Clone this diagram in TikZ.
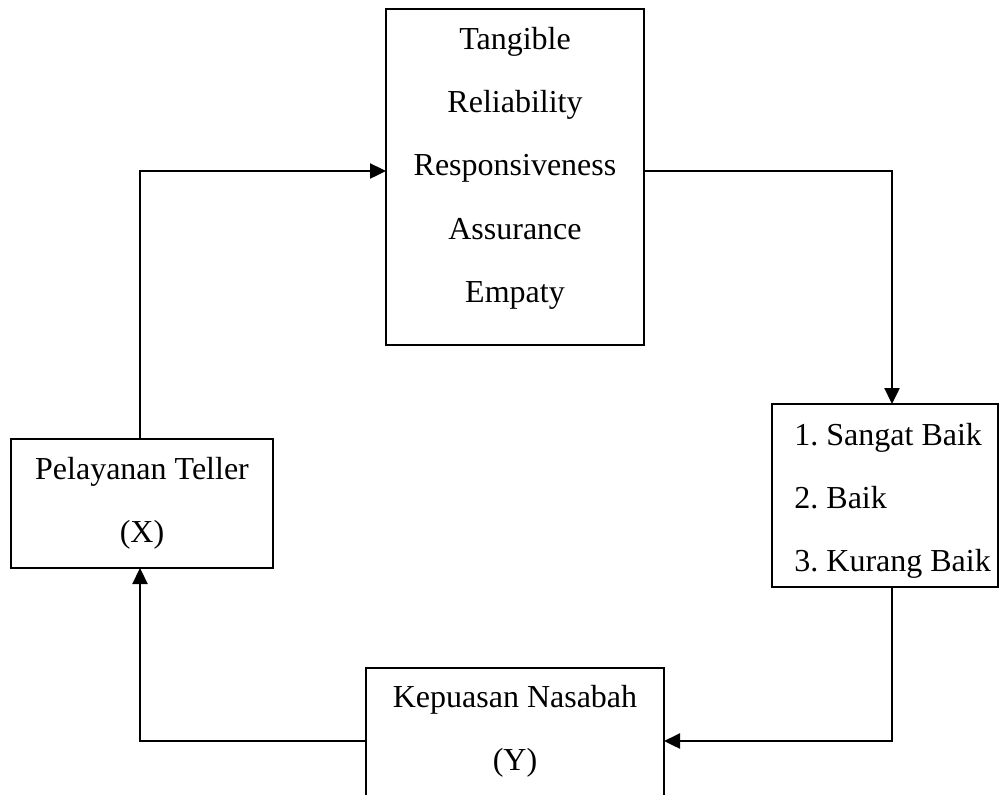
\documentclass[tikz,border=0pt]{standalone}
\usepackage{fontspec}
\setmainfont{Liberation Serif}
\usetikzlibrary{arrows.meta}
\frenchspacing
\begin{document}
\begin{tikzpicture}[x=0.5pt,y=-0.5pt,
  box/.style={draw,line width=1.1pt,inner sep=0pt,outer sep=0pt},
  txt/.style={anchor=base,inner sep=0pt,font=\fontsize{16pt}{20pt}\selectfont},
  txtl/.style={anchor=base west,inner sep=0pt,font=\fontsize{16pt}{20pt}\selectfont},
  arr/.style={line width=1.2pt,-{Triangle[length=8pt,width=7.5pt]}}]
\clip (0,0) rectangle (1000,794);
\fill[white] (0,0) rectangle (1000,794);
% boxes
\node[box,minimum width=129pt,minimum height=168pt] (T) at (515,177) {};
\node[box,minimum width=113pt,minimum height=91.5pt] (R) at (885,495.5) {};
\node[box,minimum width=131pt,minimum height=64.5pt] (L) at (142,503.5) {};
\node[box,minimum width=149pt,minimum height=81pt] (B) at (515,749) {};
% texts
\node[txt] (t1) at (515,49) {Tangible};
\node[txt] (t2) at (515,112) {Reliability};
\node[txt] (t3) at (515,175) {Responsiveness};
\node[txt] (t4) at (515,239) {Assurance};
\node[txt] (t5) at (515,302) {Empaty};
\node[txtl] (r1) at (794,445) {1. Sangat Baik};
\node[txtl] (r2) at (794,508) {2. Baik};
\node[txtl] (r3) at (794,571) {3. Kurang Baik};
\node[txt] (l1) at (142,479) {Pelayanan Teller};
\node[txt] (l2) at (142,542) {(X)};
\node[txt] (b1) at (515,707) {Kepuasan Nasabah};
\node[txt] (b2) at (515,770) {(Y)};
% connectors
\draw[arr] ([xshift=-1pt]L.north) |- ([yshift=3pt]T.west);
\draw[arr] ([yshift=3pt]T.east) -| ([xshift=3.5pt]R.north);
\draw[arr] ([xshift=3.5pt]R.south) |- ([yshift=4pt]B.east);
\draw[arr] ([yshift=4pt]B.west) -| ([xshift=-1pt]L.south);
\end{tikzpicture}
\end{document}
